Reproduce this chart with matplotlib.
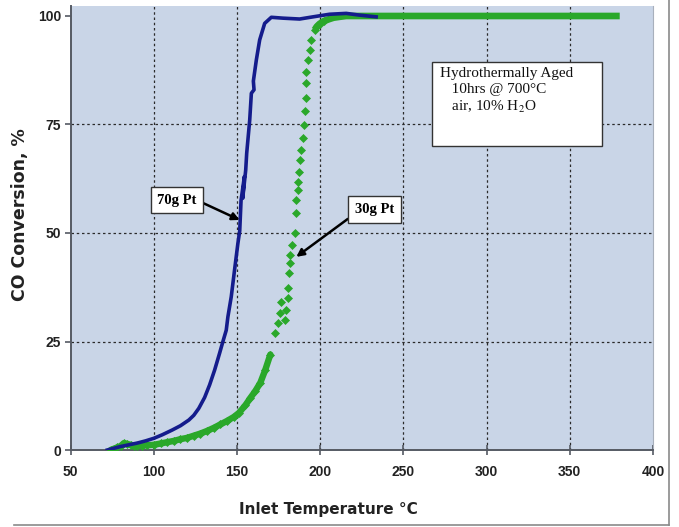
import numpy as np
import matplotlib
matplotlib.use("Agg")
import matplotlib.pyplot as plt
from matplotlib.lines import Line2D
from matplotlib.patches import Rectangle

plt.rcParams['mathtext.fontset'] = 'stix'

# ---- data ----
pt70_temp = [72, 76, 80, 85, 90, 95, 100, 105, 111, 116, 121, 124, 127, 130.5, 133.5,
             136.5, 139.5, 141.5, 143.5, 144.5, 146.5, 148.5, 150.5, 151.6, 152.4, 154.4,
             153.4, 155.2, 155.8, 157.6, 158.6, 160.2, 159.8, 161.6, 163.6, 166.6, 170.6,
             177.6, 187.6, 195.6, 205.6, 215.6, 223.6, 233.6]
pt70_conv = [0, 0.4, 0.8, 1.2, 1.6, 2.1, 2.7, 3.5, 4.6, 5.6, 6.9, 8.0, 9.6, 12.1, 15.0,
             18.4, 22.3, 25, 27.6, 30.7, 35.3, 41.5, 47.6, 50.5, 57.5, 63,
             58, 64.5, 68.4, 76, 82.2, 83.0, 85.0, 89.9, 94.5, 98.3, 99.7,
             99.5, 99.3, 99.8, 100.4, 100.6, 100.2, 99.8]

pt30_temp = [74, 76, 78, 80, 82, 84, 86, 88, 90, 93, 96, 100, 104, 108, 112, 116, 120,
             124, 128, 132, 136, 140, 144, 148, 151, 155, 158, 161, 164, 167, 170,
             172.6, 174.6, 175.6, 176.6, 178.6, 179.6, 180.6, 180.6, 181.2, 181.6, 182.0,
             183.2, 184.6, 185.6, 185.6, 186.6, 186.6, 187.2, 187.6, 188.6, 189.6, 190.2,
             190.6, 191.2, 191.6, 191.6, 192.6, 193.6, 194.6, 196.6, 198, 199.6, 202,
             205.6, 208, 211.6, 215.6, 230, 250, 280, 310, 340, 360, 380]
pt30_conv = [0.0, 0.3, 0.6, 0.9, 1.6, 1.4, 1.2, 1.0, 1.0, 1.0, 1.1, 1.2, 1.5, 1.8, 2.1,
             2.5, 2.8, 3.3, 3.8, 4.4, 5.1, 5.9, 6.7, 7.6, 8.5, 10.3, 12.0, 13.6, 15.5,
             18.5, 22.0,
             26.9, 29.2, 31.5, 34.2, 30.0, 32.3, 35.0, 37.3, 40.7, 43.0, 44.9,
             47.2, 49.9, 54.5, 57.6, 59.9, 61.8, 64.1, 66.8, 69.1, 71.8, 74.9,
             78.0, 81.0, 84.5, 87.2, 89.9, 92.2, 94.5, 96.8, 97.6, 98.2, 98.8,
             99.3, 99.6, 99.8, 100, 100, 100, 100, 100, 100, 100, 100]

x_ticks = [50, 100, 150, 200, 250, 300, 350, 400]
y_ticks = [0, 25, 50, 75, 100]

blue = '#141c8c'
green = '#2aa82a'
bg = '#c9d5e7'

fig = plt.figure(figsize=(6.79, 5.27), dpi=100)
ax = fig.add_axes([0.1041, 0.1461, 0.8576, 0.8425])
ax.set_facecolor(bg)
ax.set_xlim(50, 400)
ax.set_ylim(0, 102.3)

# green series: dense parts appear as a thick band, sparse part as diamonds
gt = np.array(pt30_temp)
gc = np.array(pt30_conv)
low = gt <= 172
high = gt >= 196
dots = gt < 205
ax.plot(gt[dots], gc[dots], linestyle='none', marker='D', ms=4.2, color=green,
        mec=green, mew=0.5, zorder=3)
ax.plot(gt[low], gc[low], color=green, lw=4.6, solid_capstyle='round', zorder=3.2)
ax.plot(gt[high], gc[high], color=green, lw=4.8, solid_capstyle='butt', zorder=3.2)

# blue series
ax.plot(pt70_temp, pt70_conv, color=blue, lw=2.6, zorder=4, solid_joinstyle='round')

ax.set_xticks(x_ticks)
ax.set_yticks(y_ticks)
ax.grid(True, color='#2a2a2a', linestyle=(0, (2, 2.2)), linewidth=0.9)
ax.yaxis.get_gridlines()[-1].set_visible(False)
ax.yaxis.get_gridlines()[0].set_visible(False)
ax.xaxis.get_gridlines()[0].set_visible(False)
ax.xaxis.get_gridlines()[-1].set_visible(False)

ax.spines['top'].set_visible(False)
ax.spines['right'].set_color('#a8b0bc')
ax.spines['right'].set_linewidth(0.8)
ax.spines['left'].set_color('#555a63')
ax.spines['bottom'].set_color('#555a63')
ax.spines['left'].set_linewidth(1.4)
ax.spines['bottom'].set_linewidth(1.4)

ax.tick_params(axis='x', direction='inout', length=7, width=1.2, color='#555a63', pad=7)
ax.tick_params(axis='y', direction='out', length=4, width=1.2, color='#555a63', pad=3)
for lab in ax.get_xticklabels() + ax.get_yticklabels():
    lab.set_fontfamily('Liberation Sans')
    lab.set_fontweight('bold')
    lab.set_fontsize(10)
    lab.set_color('#222222')

ax.set_xlabel('Inlet Temperature °C', fontfamily='DejaVu Sans', fontweight='bold',
              fontsize=11, color='#222222')
ax.set_ylabel('CO Conversion, %', fontfamily='DejaVu Sans', fontweight='bold',
              fontsize=12.5, color='#222222')
ax.xaxis.set_label_coords(0.443, -0.135)
ax.xaxis.label.set_va('center')
ax.yaxis.set_label_coords(-0.087, 0.53)
ax.yaxis.label.set_va('center')

arrow_kw = dict(arrowstyle='-|>', color='black', lw=1.8, mutation_scale=11,
                shrinkA=0, shrinkB=0)
box_kw = dict(boxstyle='square,pad=0.45', fc='white', ec='#333333', lw=1.0)

ax.annotate('70g Pt', xy=(151.6, 53), xytext=(113.8, 57.6),
            fontfamily='Liberation Serif', fontweight='bold', fontsize=10.5,
            ha='center', va='center', bbox=box_kw,
            arrowprops=dict(relpos=(1, 0.5), **arrow_kw), zorder=6)
ax.annotate('30g Pt', xy=(185.6, 44.5), xytext=(232.6, 55.4),
            fontfamily='Liberation Serif', fontweight='bold', fontsize=10.5,
            ha='center', va='center', bbox=box_kw,
            arrowprops=dict(relpos=(0, 0.18), **arrow_kw), zorder=6)

# note box
ax.add_patch(Rectangle((0.6205, 0.6847), 0.2919, 0.1892, transform=ax.transAxes,
                       fc='white', ec='#333333', lw=1.0, zorder=6))
ax.text(0.634, 0.862, 'Hydrothermally Aged\n   10hrs @ 700°C\n   air, 10% H$_2$O',
        transform=ax.transAxes, fontfamily='Liberation Serif', fontsize=11,
        ha='left', va='top', linespacing=1.25, zorder=7, color='#111111')

# outer frame edges of the picture
fig.add_artist(Line2D([669 / 679, 669 / 679], [1 - 525 / 527, 1.0],
                      transform=fig.transFigure, color='#8a8a8a', lw=1.2))
fig.add_artist(Line2D([14 / 679, 669 / 679], [1 - 525 / 527, 1 - 525 / 527],
                      transform=fig.transFigure, color='#8a8a8a', lw=1.2))

fig.savefig('out.png', dpi=100)
